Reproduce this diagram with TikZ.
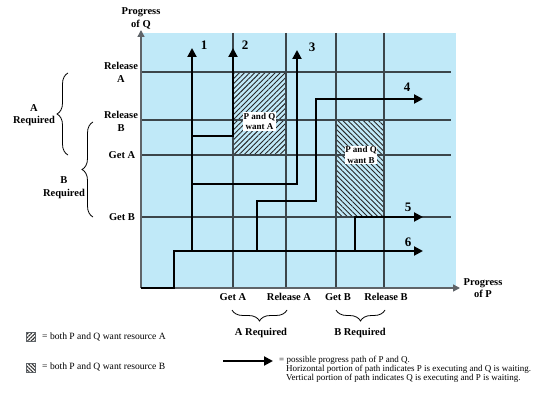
\documentclass[tikz,border=0pt]{standalone}
\usepackage{fontspec}
\setmainfont{Liberation Serif}
\usetikzlibrary{arrows.meta,patterns.meta,decorations.pathreplacing}
\definecolor{bgblue}{RGB}{192,233,248}
\definecolor{gridc}{RGB}{60,70,75}
\definecolor{axisc}{RGB}{95,100,105}
\begin{document}
\begin{tikzpicture}[x=1pt,y=-1pt,
 gridline/.style={gridc,line width=1.1pt},
 pathline/.style={black,line width=2pt},
 patharrow/.style={pathline,-{Triangle[length=9pt,width=9pt]}},
 axisline/.style={axisc,line width=1.4pt,-{Triangle[length=7pt,width=7pt]}},
 lab/.style={font=\fontsize{10.5}{12.5}\selectfont\bfseries,align=center,inner sep=0pt},
 num/.style={font=\fontsize{13}{14}\selectfont\bfseries,inner sep=0pt},
 legtext/.style={font=\fontsize{9.6}{8.6}\selectfont,inner sep=0pt,anchor=west,align=left},
 legsmall/.style={font=\fontsize{9}{8.6}\selectfont,inner sep=0pt,anchor=west,align=left},
 boxlab/.style={font=\fontsize{9}{10.5}\selectfont\bfseries,fill=white,inner sep=0.6pt,align=center},
 bracedeco/.style={decorate,decoration={brace,amplitude=11pt},line width=0.8pt},
 hatchA/.style={pattern={Lines[angle=45,distance=3.6pt,line width=0.9pt]},pattern color=black!85},
 hatchB/.style={pattern={Lines[angle=-45,distance=3.6pt,line width=0.9pt]},pattern color=black!85},
 keyA/.style={pattern={Lines[angle=45,distance=2.6pt,line width=1.1pt]},pattern color=black!80},
 keyB/.style={pattern={Lines[angle=-45,distance=2.6pt,line width=1.1pt]},pattern color=black!80}]

\useasboundingbox (0,0) rectangle (535,409);

% background
\fill[bgblue] (141,33) rectangle (456,288);

% hatched regions
\fill[hatchA] (233,72) rectangle (286,155);
\fill[hatchB] (336,120) rectangle (384,217);

% grid lines
\foreach \yy in {72,120,155,217}
  \draw[gridline] (141,\yy) -- (451,\yy);
\foreach \xx in {233,286,336,384}
  \draw[gridline] (\xx,33) -- (\xx,288);

% axes
\coordinate (origin) at (141,288);
\coordinate (ytip) at (141,30);
\coordinate (xtip) at (460,288);
\draw[axisline] (origin) -- (ytip);
\draw[axisline] (origin) -- (xtip);

% path coordinates
\coordinate (s6) at (174,288);
\coordinate (c6) at (174,251);
\coordinate (e6) at (423,251);
\coordinate (b1) at (192,251);
\coordinate (e1) at (192,48);
\coordinate (b2) at (192,136);
\coordinate (c2) at (233,136);
\coordinate (e2) at (233,48);
\coordinate (b3) at (192,184);
\coordinate (c3) at (297,184);
\coordinate (e3) at (297,50);
\coordinate (b4) at (257,251);
\coordinate (c4a) at (257,201);
\coordinate (c4b) at (316,201);
\coordinate (c4c) at (316,99);
\coordinate (e4) at (423,99);
\coordinate (b5) at (355,251);
\coordinate (c5) at (355,217);
\coordinate (e5) at (423,217);

\draw[patharrow] (origin) -- (s6) -- (c6) -- (e6);
\draw[patharrow] (b1) -- (e1);
\draw[patharrow] (b2) -- (c2) -- (e2);
\draw[patharrow] (b3) -- (c3) -- (e3);
\draw[patharrow] (b4) -- (c4a) -- (c4b) -- (c4c) -- (e4);
\draw[patharrow] (b5) -- (c5) -- (e5);

% path numbers
\node[num] (n1) at (204,45) {1};
\node[num] (n2) at (245,45) {2};
\node[num] (n3) at (312,47) {3};
\node[num] (n4) at (407,87) {4};
\node[num] (n5) at (408,207) {5};
\node[num] (n6) at (408,242) {6};

% region labels
\node[boxlab] (wantA) at (259.5,121.5) {P and Q\\want A};
\node[boxlab] (wantB) at (361,155) {P and Q\\want B};

% axis labels
\node[lab] (progQ) at (141,18.5) {Progress\\of Q};
\node[lab] (progP) at (483,288) {Progress\\of P};

\node[lab] (relA) at (121,72.5) {Release\\A};
\node[lab] (relB) at (121,121.5) {Release\\B};
\node[lab] (getA) at (122,155) {Get A};
\node[lab] (getB) at (122,217) {Get B};

\node[lab] (xgetA) at (233,297) {Get A};
\node[lab] (xrelA) at (289,297) {Release A};
\node[lab] (xgetB) at (338,297) {Get B};
\node[lab] (xrelB) at (386,297) {Release B};

% braces
\draw[bracedeco] (68,155) -- (68,73);
\draw[bracedeco] (93,217) -- (93,122);
\node[lab] (reqA) at (34,115) {A\\Required};
\node[lab] (reqB) at (64,187.5) {B\\Required};

\draw[bracedeco] (287,310) -- (232,310);
\draw[bracedeco] (385,310) -- (336,310);
\node[lab] (xreqA) at (261,333) {A Required};
\node[lab] (xreqB) at (360,333) {B Required};

% legend
\draw[keyA,draw=axisc,line width=0.6pt] (26,332) rectangle (35,341);
\node[legtext] (legA) at (42,337) {= both P and Q want resource A};
\draw[keyB,draw=axisc,line width=0.6pt] (26,363) rectangle (35,372);
\node[legtext] (legB) at (42,367) {= both P and Q want resource B};

\coordinate (la) at (223,361);
\coordinate (lb) at (273,361);
\draw[patharrow] (la) -- (lb);
\node[legsmall] (legP1) at (279,360) {= possible progress path of P and Q.};
\node[legsmall] (legP2) at (286,369) {Horizontal portion of path indicates P is executing and Q is waiting.};
\node[legsmall] (legP3) at (286,378) {Vertical portion of path indicates Q is executing and P is waiting.};
\end{tikzpicture}
\end{document}
